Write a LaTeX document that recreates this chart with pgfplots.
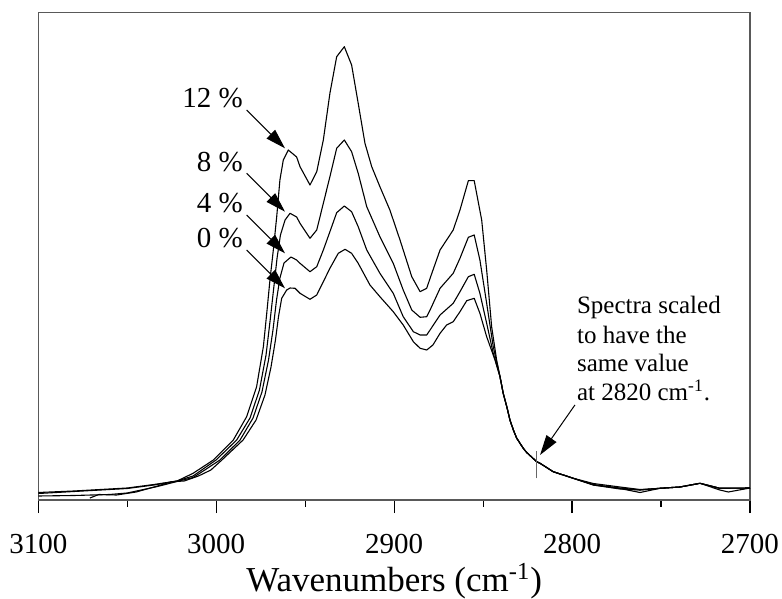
\documentclass[border=0pt]{standalone}
\usepackage{fontspec}
\setmainfont{Liberation Serif}
\usepackage{pgfplots}
\usepackage{pgfplotstable}
\pgfplotsset{compat=1.18}
\usetikzlibrary{arrows.meta}

\pgfplotstableread{
v y
3100 7.5
3080 9
3060 11
3050 12
3035 15.5
3022 19
3013 26.7
3001.6 40
2990.4 60
2982.9 83.3
2977.3 113.3
2973.5 153.3
2971.6 186.7
2969.8 220
2967.9 250
2966.0 283.3
2964.2 320
2962.3 340
2959.5 350
2954.8 343
2952.9 333.3
2947.3 315
2943.5 328.3
2939.8 360
2936.1 406.7
2932.3 443.3
2928.0 453.3
2923.9 435
2920.2 396.7
2916.4 356.7
2912.6 333.3
2908.0 313.3
2902.4 290
2896.7 260
2890.1 223.3
2885.4 208.3
2881.7 211.7
2879.8 221.7
2874.2 250
2866.8 270
2863.0 290
2858.3 319.3
2855.0 319.3
2850.8 280
2848.0 230
2845.2 173.3
2842.4 140
2840.5 123.3
2838.7 106.7
2836.7 93.3
2834.9 80
2833.0 70
2831.1 61.7
2827.4 51.7
2825.5 47.5
2819.9 38.3
2818.0 36.7
2810.6 28.3
2799.3 21.7
2788.1 16.5
2773.1 13
2761.8 10.5
2750.6 11.7
2739.4 13
2728.1 16.7
2716.9 11.7
2700 12
}\twelve

\pgfplotstableread{
v y
3100 6.5
3080 8.5
3060 10.5
3050 11.5
3035 15
3022 19
3013 24
3000.1 40
2988.5 60
2981.0 82
2975.7 110
2972.0 145
2969.8 178
2967.8 210
2965.8 242
2963.9 265
2961.3 280
2958.5 286.7
2954.8 283
2952.9 276.7
2947.3 261.7
2943.5 270
2939.8 296.7
2936.1 323.3
2932.3 351.7
2928.0 360
2923.9 348.3
2920.2 326.7
2915.4 293.3
2908.0 263.3
2900.5 236.7
2894.9 210
2890.1 190
2885.4 182.7
2881.7 183.3
2879.8 190
2874.2 211.7
2866.8 226.7
2863.0 241.7
2858.3 262.7
2855.0 265
2851.8 240
2848.0 196.7
2844.3 153.3
2840.5 123.3
2838.7 106.7
2836.7 93.3
2834.9 80
2833.0 70
2831.1 61.7
2827.4 51.7
2825.5 47.5
2819.9 38.3
2818.0 36.7
2810.6 28.3
2799.3 21.7
2788.1 15.5
2773.1 12
2761.8 10
2750.6 11.7
2739.4 13
2728.1 16.7
2716.9 11.7
2700 12
}\eight

\pgfplotstableread{
v y
3100 4
3080 4.5
3060 5.5
3050 7
3033.5 13.3
3022 18.5
3013 22.5
3009 27
2997.9 40
2986.6 60
2979.3 82
2974.3 108
2970.6 140
2968.1 170
2966.1 200
2964.2 222
2961.9 237
2958.0 243
2954.8 240
2952.9 236.7
2947.3 228.3
2943.5 233.3
2939.8 250
2936.1 268.3
2932.3 287.3
2928.0 294
2923.9 288.3
2920.2 273.3
2915.4 250
2908.0 226.7
2900.5 206.7
2894.9 183.3
2889.2 168.3
2885.4 165
2881.7 165
2879.8 170
2874.2 185
2866.8 196.7
2863.0 208.3
2858.3 223.3
2855.0 225.7
2851.8 206.7
2848.0 176.7
2844.3 146.7
2840.5 123.3
2838.7 106.7
2836.7 93.3
2834.9 80
2833.0 70
2831.1 61.7
2827.4 51.7
2825.5 47.5
2819.9 38.3
2818.0 36.7
2810.6 28.3
2799.3 21.7
2788.1 15
2773.1 11
2761.8 10
2750.6 11.7
2739.4 13
2728.1 16.7
2716.9 11.7
2700 12
}\four

\pgfplotstableread{
v y
3071 2
3066 5.5
3056 5
3045 8
3033 14
3025 18.3
3018 19
3010 24
3003 30
2996.8 40
2984.9 60
2977.6 80
2972.6 105
2969.2 133
2966.7 160
2965.0 183.3
2963.2 201.7
2960.4 210
2958.5 212
2955.7 211.7
2952.9 206.7
2947.3 200.7
2943.5 205
2939.8 218.3
2936.1 231.7
2931.4 246.7
2927.6 250.7
2923.9 246.7
2920.2 236.7
2913.6 215
2908.0 203.3
2900.5 188.3
2894.9 175
2889.2 158.3
2885.4 151.7
2881.7 150
2878.2 155
2874.2 166.7
2870.5 175
2866.8 178.3
2863.0 188.3
2859.2 199.3
2855.0 201.7
2851.8 186.7
2848.0 163.3
2843.3 140
2840.5 123.3
2838.7 106.7
2836.7 93.3
2834.9 80
2833.0 70
2831.1 61.7
2827.4 51.7
2825.5 47.5
2819.9 38.3
2818.0 36.7
2810.6 28.3
2799.3 21.7
2788.1 15
2773.1 11.5
2761.8 7.5
2750.6 11.7
2739.4 13
2728.1 16.7
2716.9 10
2712.2 8
2700 12
}\zero

\begin{document}
\begin{tikzpicture}
\begin{axis}[
  scale only axis,
  width=355.85bp, height=243.65bp,
  xmin=2700, xmax=3100, x dir=reverse,
  ymin=0, ymax=487.3,
  xtick={2700,2800,2900,3000,3100},
  xticklabels={2700,2800,2900,3000,3100},
  minor xtick={2750,2850,2950,3050},
  ytick=\empty,
  tick align=outside,
  xtick pos=bottom,
  major tick length=6.5bp,
  minor tick length=3.3bp,
  tick style={black, line width=0.6bp},
  axis line style={draw=black!65, line width=0.6bp},
  xticklabel style={font=\fontsize{14.5bp}{17bp}\selectfont\rmfamily, yshift=-7bp},
  xlabel={Wavenumbers (cm\textsuperscript{-1})},
  xlabel style={font=\fontsize{17.5bp}{21bp}\selectfont, yshift=2bp},
  clip=false,
]
\addplot[black, no marks, line width=0.55bp, line join=round] table[x=v,y=y] {\zero};
\addplot[black, no marks, line width=0.55bp, line join=round] table[x=v,y=y] {\four};
\addplot[black, no marks, line width=0.55bp, line join=round] table[x=v,y=y] {\eight};
\addplot[black, no marks, line width=0.55bp, line join=round] table[x=v,y=y] {\twelve};
\addplot[draw=black!60, no marks, line width=0.7bp] coordinates {(2820,21.7) (2820,49.3)};

\coordinate (ll) at (rel axis cs:0,0);
\coordinate (ur) at (rel axis cs:1,1);

\begin{scope}[font=\fontsize{14.5bp}{17bp}\selectfont]
\node[anchor=base east, inner sep=0pt] at (axis cs:2984.8,392) {12 \%};
\node[anchor=base east, inner sep=0pt] at (axis cs:2984.8,328.3) {8 \%};
\node[anchor=base east, inner sep=0pt] at (axis cs:2984.8,287) {4 \%};
\node[anchor=base east, inner sep=0pt] at (axis cs:2984.8,252) {0 \%};
\end{scope}
\begin{scope}[-{Triangle[length=10bp,width=6bp]}, line width=0.5bp]
\draw (axis cs:2982.9,390) -- (axis cs:2961.35,351.7);
\draw (axis cs:2982.9,326.7) -- (axis cs:2961.35,288.3);
\draw (axis cs:2982.9,285) -- (axis cs:2961.35,246.7);
\draw (axis cs:2982.9,250) -- (axis cs:2961.35,211.7);
\draw (axis cs:2798.4,95) -- (axis cs:2818.0,45);
\end{scope}
\begin{scope}[font=\fontsize{12.5bp}{14bp}\selectfont]
\node[anchor=base west, inner sep=0pt] at (axis cs:2797.4,186) {Spectra scaled};
\node[anchor=base west, inner sep=0pt] at (axis cs:2797.4,157) {to have the};
\node[anchor=base west, inner sep=0pt] at (axis cs:2797.4,128.5) {same value};
\node[anchor=base west, inner sep=0pt] at (axis cs:2797.4,100) {at 2820 cm\textsuperscript{-1}.};
\end{scope}
\end{axis}
\pgfresetboundingbox
\path ([shift={(-19.15bp,-49.5bp)}]ll) rectangle ([shift={(16bp,6.35bp)}]ur);
\end{tikzpicture}
\end{document}
